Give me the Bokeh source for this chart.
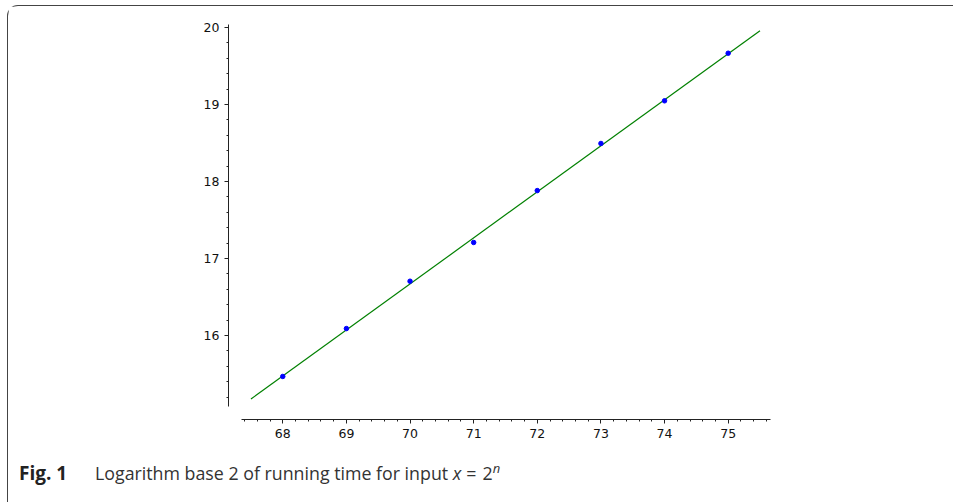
from bokeh.plotting import figure
from bokeh.models import Range1d, SingleIntervalTicker, Div
from bokeh.layouts import column
from bokeh.embed import file_html
from bokeh.resources import INLINE

# data
n_vals = [68, 69, 70, 71, 72, 73, 74, 75]
log2_time = [15.468, 16.09, 16.705, 17.208, 17.882, 18.494, 19.048, 19.666]
fit_x = [67.5, 75.5]
fit_y = [15.175, 19.958]

caption_bold = "Fig. 1"
caption_text = "Logarithm base 2 of running time for input"

W, H = 945, 448
FL, FT, FW, FH = 220, 18, 542, 395
p = figure(width=W, height=H, output_backend="svg", toolbar_location=None,
           x_range=Range1d(67.147, 75.665), y_range=Range1d(14.909, 20.039),
           frame_width=FW, frame_height=FH,
           min_border_left=FL, min_border_right=W - FL - FW,
           min_border_top=FT, min_border_bottom=H - FT - FH)
p.outline_line_color = None
p.grid.visible = False
p.background_fill_color = "white"
p.border_fill_color = "white"

p.line(fit_x, fit_y, line_color="#008000", line_width=1.2)
p.scatter(n_vals, log2_time, size=4.5, fill_color="#0000ff", line_color="#0000ff")

for ax in (p.xaxis[0], p.yaxis[0]):
    ax.ticker = SingleIntervalTicker(interval=1, num_minor_ticks=5)
    ax.axis_line_color = "#222222"
    ax.axis_line_width = 1
    ax.major_tick_line_color = "#222222"
    ax.minor_tick_line_color = "#222222"
    ax.major_tick_out = 4
    ax.major_tick_in = 0
    ax.minor_tick_out = 2
    ax.minor_tick_in = 0
    ax.major_label_text_font = "DejaVu Sans"
    ax.major_label_text_font_size = "12.5px"
    ax.major_label_text_color = "#111111"
    ax.major_label_standoff = 5

p.xaxis[0].bounds = (67.346, 75.665)
p.yaxis[0].bounds = (15.078, 20.039)

caption_html = (
    '<span style="display:inline-block;width:76px;font-weight:bold;color:#222;font-size:19px">'
    + caption_bold + '</span>' + caption_text
    + ' <i>x</i><span style="margin:0 6px 0 5px">=</span>2'
    + '<sup style="font-size:13px"><i>n</i></sup>'
)
cap = Div(text=caption_html, width=900, height=44,
          styles={"font-family": "Open Sans", "font-size": "17.8px", "color": "#333333",
                  "padding-top": "0px", "padding-left": "6px",
                  "white-space": "nowrap"})

layout = column(p, cap, margin=(5, 0, 0, 7),
                styles={"border-top": "1.5px solid #444444",
                        "border-left": "1.5px solid #444444",
                        "border-top-left-radius": "11px"})

open("out.html", "w").write(file_html(layout, INLINE))
